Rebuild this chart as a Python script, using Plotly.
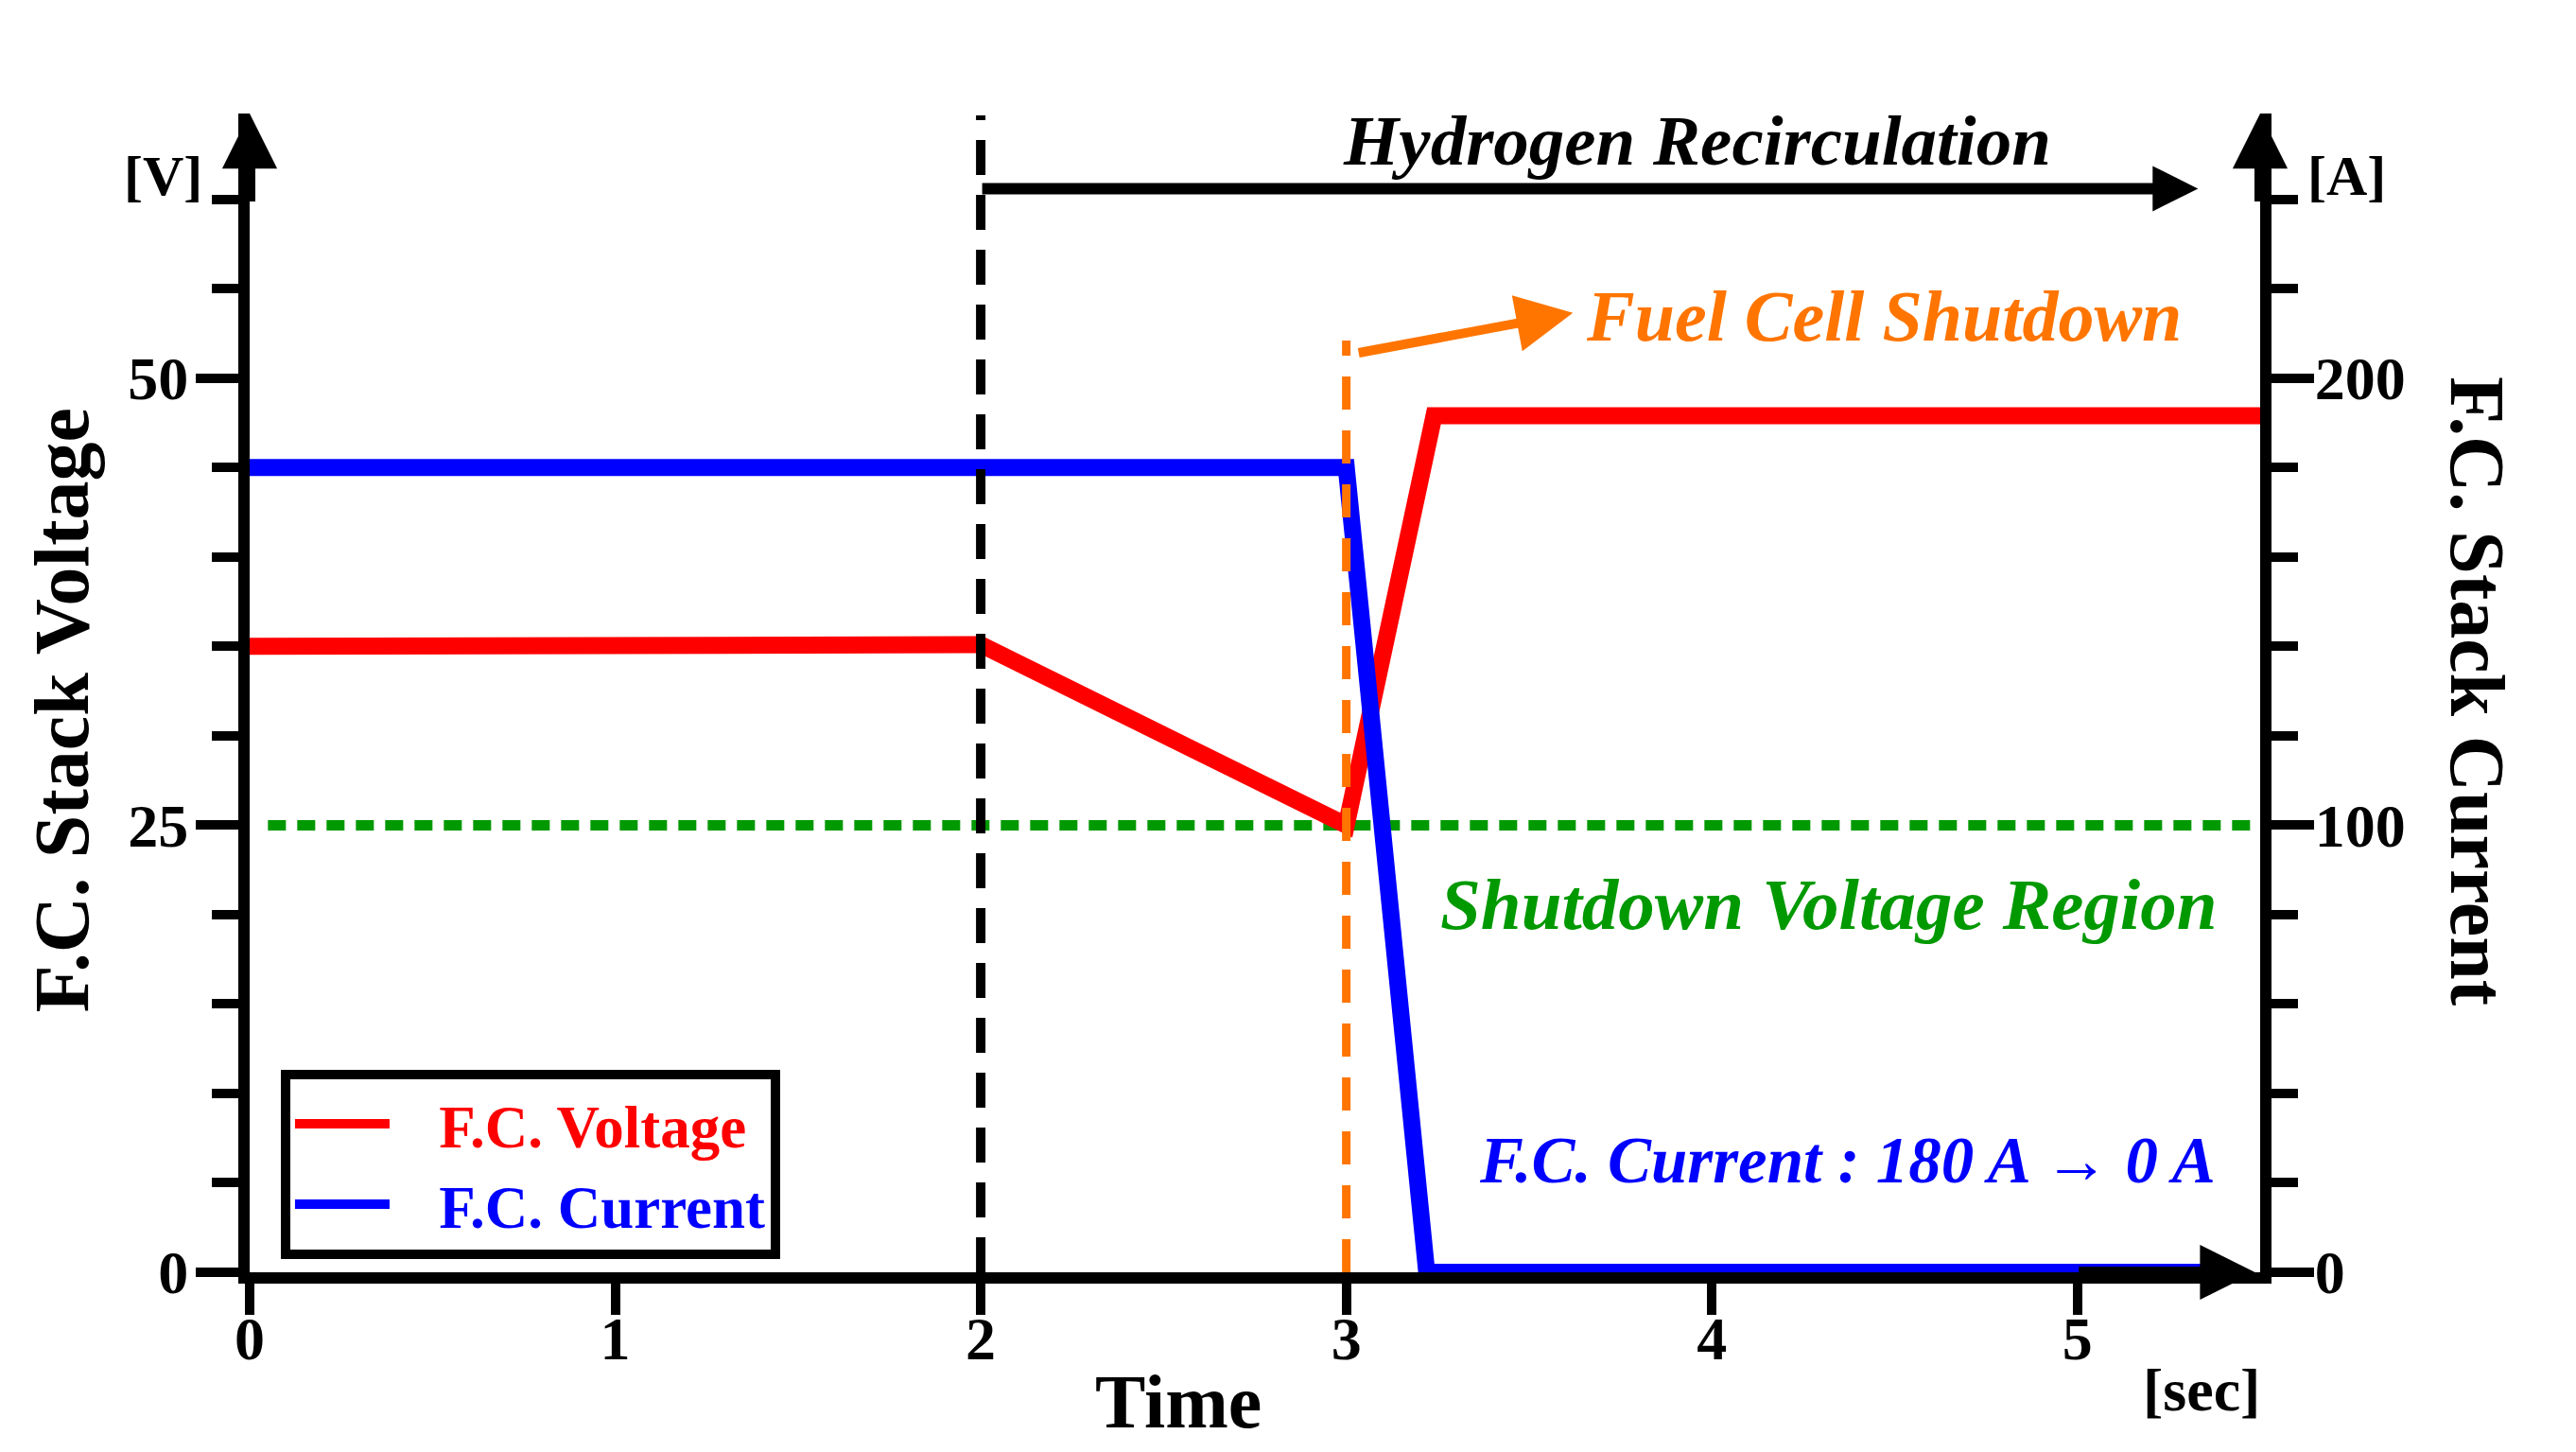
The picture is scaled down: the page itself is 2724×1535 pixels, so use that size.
import plotly.graph_objects as go

# ---------------- data ----------------
time_voltage = [0, 2, 3, 3.24, 5.5]
voltage = [35, 35.1, 25, 47.9, 47.9]

time_current = [0, 3, 3.22, 5.34]
current = [180, 180, 0, 0]

shutdown_span = [0.05, 5.5]
shutdown_level = [25, 25]

recirculation_start = 2
shutdown_time = 3

x_ticks = [0, 1, 2, 3, 4, 5]
v_ticks = [0, 25, 50]
v_minor = [5, 10, 15, 20, 30, 35, 40, 45, 55, 60]
i_ticks = [0, 100, 200]
i_minor = [20, 40, 60, 80, 120, 140, 160, 180, 220, 240]

X_MAX = 5.5
V_MAX = 64.8
I_MAX = V_MAX * 4

FONT = "Liberation Serif"
RED = "#ff0000"
BLUE = "#0000ff"
GREEN = "#009900"
ORANGE = "#ff7500"

fig = go.Figure()

fig.add_trace(go.Scatter(
    x=shutdown_span, y=shutdown_level, mode="lines", showlegend=False,
    line=dict(color=GREEN, width=11, dash="19px,12px"), hoverinfo="skip"))

fig.add_trace(go.Scatter(
    x=time_voltage, y=voltage, mode="lines",
    name=f"\u00a0\u00a0\u00a0<span style='color:{RED}'><b>F.C. Voltage</b></span>",
    line=dict(color=RED, width=18), cliponaxis=False))

fig.add_trace(go.Scatter(
    x=time_current, y=current, mode="lines",
    name=f"\u00a0\u00a0\u00a0<span style='color:{BLUE}'><b>F.C. Current</b></span>",
    line=dict(color=BLUE, width=18), yaxis="y2", cliponaxis=False))

# phase boundaries
fig.add_shape(type="line", xref="x", yref="y", x0=recirculation_start, x1=recirculation_start,
              y0=0, y1=64.7, line=dict(color="black", width=10, dash="37px,21px"), layer="above")
fig.add_shape(type="line", xref="x", yref="y", x0=shutdown_time, x1=shutdown_time,
              y0=0, y1=52.1, line=dict(color=ORANGE, width=9, dash="35px,22px"), layer="above")

ann = []
def arrow(x, y, ax, ay, color, width, size):
    ann.append(dict(x=x, y=y, ax=ax, ay=ay, xref="x", yref="y", axref="x", ayref="y",
                    text="", showarrow=True, arrowhead=2, arrowsize=size,
                    arrowwidth=width, arrowcolor=color, standoff=0, startstandoff=0))

# axis arrows
arrow(0, V_MAX, 0, V_MAX - 5, "black", 12, 0.97)
arrow(X_MAX, V_MAX, X_MAX, V_MAX - 5, "black", 12, 0.97)
arrow(5.486, 0, 5.0, 0, "black", 12, 0.97)
# hydrogen recirculation arrow
arrow(5.33, 60.6, recirculation_start, 60.6, "black", 12, 0.8)
# fuel cell shutdown arrow
arrow(3.62, 53.65, 3.03, 51.4, ORANGE, 10, 1.2)

def text(t, x, y, size, color="black", italic=False, xref="x", yref="y", angle=0,
         xanchor="center"):
    ann.append(dict(text=t, x=x, y=y, xref=xref, yref=yref, showarrow=False,
                    textangle=angle, xanchor=xanchor, yanchor="middle",
                    font=dict(family=FONT, size=size, color=color, weight="bold",
                              style="italic" if italic else "normal")))

text("Hydrogen Recirculation", 3.96, 63.3, 75, italic=True)
text("Fuel Cell Shutdown", 4.47, 53.5, 76, ORANGE, italic=True)
text("Shutdown Voltage Region", 4.32, 20.6, 77, GREEN, italic=True)
text("F.C. Current : 180 A \u2192 0 A", 4.37, 6.25, 69, BLUE, italic=True)

text("F.C. Stack Voltage", -0.0936, 31.4, 82, xref="paper", angle=-90)
text("F.C. Stack Current", 1.108, 32.5, 82, xref="paper", angle=90)
text("[V]", -0.043, 61.3, 60, xref="paper")
text("[A]", 1.043, 61.3, 60, xref="paper")
text("Time", 2.54, -0.112, 80, yref="paper")
text("[sec]", 5.34, -0.102, 64, yref="paper")

axis_common = dict(showgrid=False, zeroline=False, showline=True, linecolor="black",
                   linewidth=12, ticks="outside", tickcolor="black", tickwidth=10,
                   tickfont=dict(family=FONT, size=64, color="black", weight="bold"))

fig.update_layout(
    width=2724, height=1535,
    margin=dict(l=256, r=342, t=112, b=198),
    paper_bgcolor="white", plot_bgcolor="white",
    font=dict(family=FONT, color="black"),
    xaxis=dict(range=[0, X_MAX], tickmode="array", tickvals=x_ticks, ticklen=33,
               ticklabelstandoff=-30, **axis_common),
    yaxis=dict(range=[0, V_MAX], tickmode="array", tickvals=v_ticks, ticklen=45,
               ticklabelstandoff=-5,
               minor=dict(tickmode="array", tickvals=v_minor, ticklen=28, tickwidth=10,
                          tickcolor="black", ticks="outside"),
               **axis_common),
    yaxis2=dict(range=[0, I_MAX], tickmode="array", tickvals=i_ticks, ticklen=45,
                overlaying="y", side="right", ticklabelstandoff=-12,
                minor=dict(tickmode="array", tickvals=i_minor, ticklen=28, tickwidth=10,
                           tickcolor="black", ticks="outside"),
                **axis_common),
    legend=dict(x=0.0155, y=0.175, xanchor="left", yanchor="top",
                bgcolor="white", bordercolor="black", borderwidth=10,
                font=dict(family=FONT, size=63), itemwidth=100,
                tracegroupgap=0),
    annotations=ann,
)

fig.write_html("out.html")
